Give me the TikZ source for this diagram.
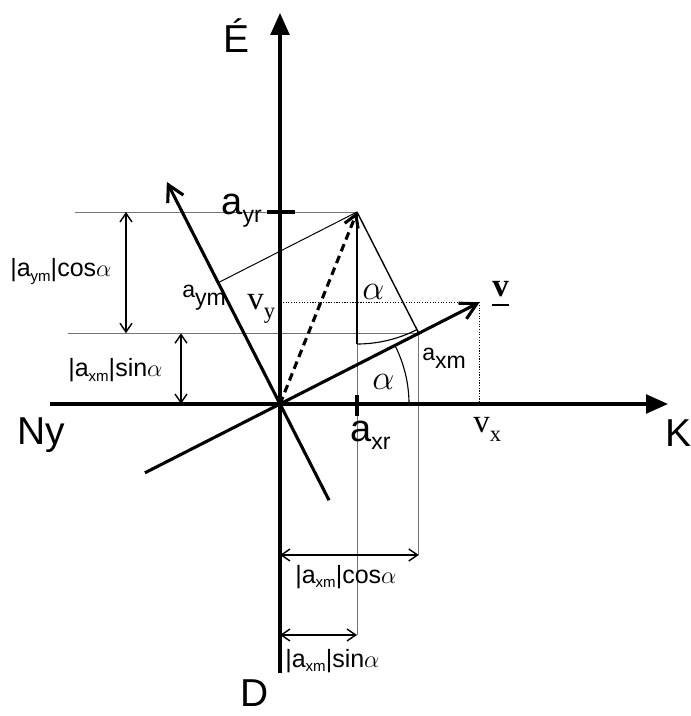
\documentclass[tikz,border=0pt]{standalone}
\usepackage{fontspec}
\setmainfont{Liberation Sans}
\newfontfamily\vfont{Liberation Serif}
\usetikzlibrary{arrows.meta,calc}

% text sizes
\newcommand{\bigsize}{\fontsize{27.7}{30}\selectfont}
\newcommand{\compsize}{\fontsize{16.4}{18}\selectfont}
\newcommand{\dimsize}{\fontsize{17.8}{20}\selectfont}
\newcommand{\bigsub}[2]{{\fontsize{27}{30}\selectfont #1}{\compsize\raisebox{-5pt}{#2}}}
\newcommand{\dimsub}[1]{{\fontsize{10.7}{12}\selectfont\raisebox{-3.3pt}{#1}}}

\tikzset{
  axis/.style={line width=2.2pt, -{Triangle[length=5.5mm,width=4.7mm]}},
  vec/.style={line width=2.2pt, -{Straight Barb[length=4mm,width=4.4mm]}},
  helper/.style={line width=0.7pt, black!55},
  dim/.style={line width=1pt, {Straight Barb[length=2.2mm,width=3mm]}-{Straight Barb[length=2.2mm,width=3mm]}},
  dots/.style={line width=0.8pt, dash pattern=on 0.8pt off 1.1pt},
  lbl/.style={inner sep=0pt, anchor=base west},
}

\begin{document}
\begin{tikzpicture}
  \useasboundingbox (-7.0,-7.8) rectangle (10.275,10.1);

  % points
  \coordinate (O) at (0,0);
  \coordinate (P) at (1.925,4.8);
  \coordinate (F1) at ($(O)!(P)!(27:1)$);
  \coordinate (F2) at ($(O)!(P)!(117:1)$);
  \coordinate (vtip) at (27:5.6);
  \coordinate (vend) at (207:3.79);
  \coordinate (mtip) at (117:6.23);
  \coordinate (mend) at (297:2.7);
  \coordinate (xend) at (-5.75,0);
  \coordinate (xtip) at (9.7,0);
  \coordinate (yend) at (0,-6.725);
  \coordinate (ytip) at (0,9.775);

  % helper lines
  \coordinate (h1) at (-5.125,0);
  \coordinate (h2) at (-5.3,0);
  \coordinate (g1) at (0,-5.775);
  \coordinate (g2) at (0,-3.775);
  \draw[helper] (h1 |- P) -- (P);
  \draw[helper] (h2 |- F1) -- (F1);
  \draw[helper] (P) -- (P |- g1);
  \draw[helper] (F1) -- (F1 |- g2);

  % axes
  \draw[axis] (xend) -- (xtip);
  \draw[axis] (yend) -- (ytip);

  % rotated axes
  \draw[vec] (vend) -- (vtip);
  \draw[vec] (mend) -- (mtip);

  % components
  \draw[line width=1pt] (P) -- (F1);
  \draw[line width=0.7pt] (P) -- (F2);
  \draw[line width=2pt] (P) -- ++(0,-3.3);
  \draw[line width=0.8pt] (P) ++(270:3.3) arc[start angle=270, end angle=297, radius=3.3];
  \draw[line width=0.8pt] (3.225,0) arc[start angle=0, end angle=27, radius=3.225];
  \draw[line width=2.2pt, dash pattern=on 5.5pt off 3.5pt, -{Straight Barb[length=3mm,width=3.6mm]}] (O) -- (P);

  % velocity components
  \draw[dots] (0.075,0 |- vtip) -- (vtip);
  \draw[dots] (vtip) -- (vtip |- O);

  % ticks
  \draw[line width=2.2pt] ($(P |- O)+(0,0.225)$) -- ++(0,-0.525);
  \draw[line width=2.2pt] ($(O |- P)+(-0.325,0)$) -- ++(0.7,0);

  % dimensions
  \coordinate (d1) at (-3.85,0);
  \coordinate (d2) at (-2.475,0);
  \coordinate (d3) at (0,-3.775);
  \coordinate (d4) at (0,-5.775);
  \draw[dim] (d1 |- P) -- (d1 |- F1);
  \draw[dim] (d2 |- F1) -- (d2 |- O);
  \draw[dim] (d3) -- (d3 -| F1);
  \draw[dim] (d4) -- (d4 -| P);

  % labels
  \node[lbl, anchor=base] (eszak) at (-1.1,8.775) {\bigsize É};
  \node[lbl, anchor=base] (del) at (-0.64,-7.55) {\bigsize D};
  \node[lbl, anchor=base] (kelet) at (9.95,-1.075) {\bigsize K};
  \node[lbl, anchor=base] (nyugat) at (-5.975,-1.025) {\bigsize Ny};

  \node[lbl, anchor=base east] (ayr) at (-0.45,4.725) {\bigsub{a}{yr}};
  \node[lbl] (axr) at (1.75,-0.95) {\bigsub{a}{xr}};
  \node[lbl] (aym) at (-2.45,2.65) {\compsize a\raisebox{-5pt}{ym}};
  \node[lbl] (axm) at (3.55,1.075) {\compsize a\raisebox{-5pt}{xm}};

  \node[lbl] (alpha1) at (2.05,2.6) {\fontsize{27}{30}\selectfont$\alpha$};
  \node[lbl] (alpha2) at (2.3,0.35) {\fontsize{27}{30}\selectfont$\alpha$};

  \node[lbl] (vy) at (-0.825,2.35) {\vfont\fontsize{23.5}{26}\selectfont v{\fontsize{16}{18}\selectfont\raisebox{-5.7pt}{y}}};
  \node[lbl] (vx) at (4.825,-0.725) {\vfont\fontsize{23.5}{26}\selectfont v{\fontsize{16}{18}\selectfont\raisebox{-6.2pt}{x}}};
  \node[lbl] (vlab) at (5.3,2.675) {\vfont\bfseries\fontsize{23.5}{26}\selectfont v};
  \draw[line width=1.4pt] ([yshift=-5.7pt]vlab.base west) -- ([yshift=-5.7pt]vlab.base east);

  \node[lbl] (dim1) at (-6.75,3.175) {\dimsize|a\dimsub{ym}|cos$\alpha$};
  \node[lbl] (dim2) at (-5.3,0.675) {\dimsize|a\dimsub{xm}|sin$\alpha$};
  \node[lbl] (dim3) at (0.375,-4.475) {\dimsize|a\dimsub{xm}|cos$\alpha$};
  \node[lbl] (dim4) at (0.125,-6.575) {\dimsize|a\dimsub{xm}|sin$\alpha$};
\end{tikzpicture}
\end{document}
